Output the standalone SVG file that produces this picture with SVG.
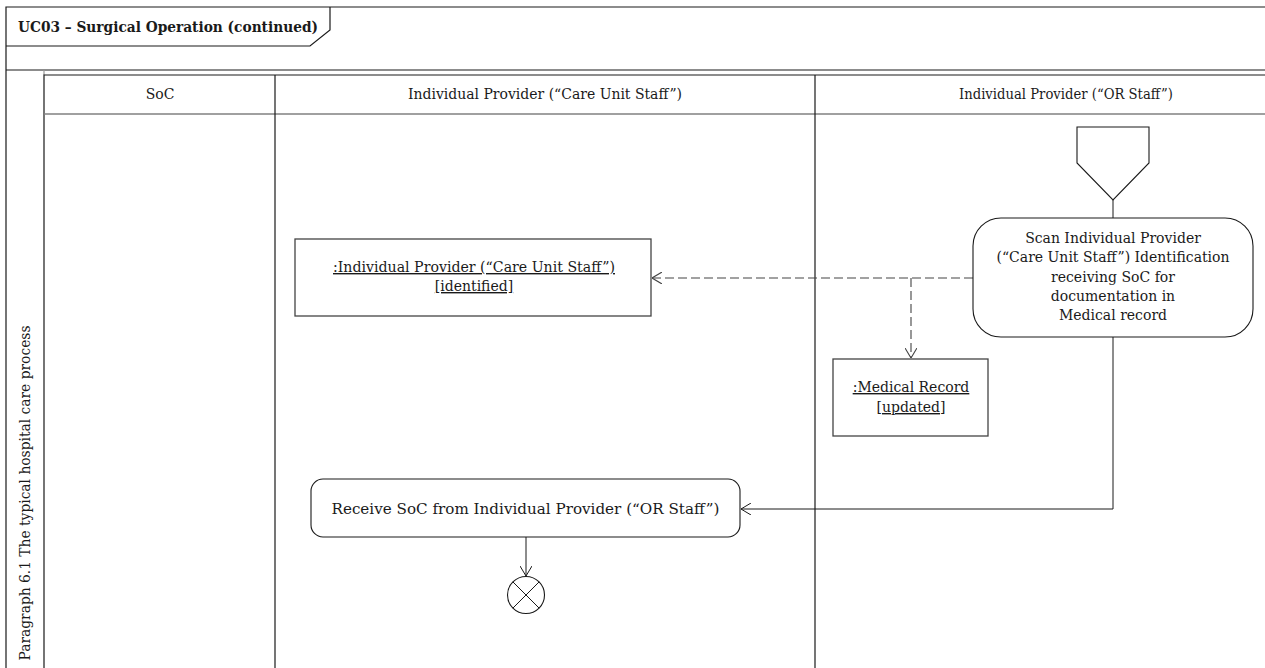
<svg xmlns="http://www.w3.org/2000/svg" width="1265" height="668" viewBox="0 0 1265 668">
  <style>
    text { font-family: "DejaVu Serif", "Liberation Serif", serif; font-size: 14px; fill: #1a1a1a; }
    .title { font-weight: bold; }
    .mid { text-anchor: middle; }
    .frame { fill: none; stroke: #1a1a1a; stroke-width: 1.2; }
    .lane { fill: none; stroke: #1a1a1a; stroke-width: 1.2; }
    .hdr { fill: none; stroke: #808080; stroke-width: 1.6; }
    .node { fill: #ffffff; stroke: #1a1a1a; stroke-width: 1.1; }
    .obj { fill: #ffffff; stroke: #444444; stroke-width: 1.3; }
    .flow { fill: none; stroke: #1a1a1a; stroke-width: 1; }
    .obflow { fill: none; stroke: #444444; stroke-width: 1.1; stroke-dasharray: 9 4; }
    .u { text-decoration: underline; }
  </style>
  <defs>
    <marker id="open" viewBox="0 0 10 12" refX="10" refY="6" markerWidth="10" markerHeight="12" markerUnits="userSpaceOnUse" orient="auto">
      <path d="M0,0 L10,6 L0,12" fill="none" stroke="#1a1a1a" stroke-width="1"/>
    </marker>
    <marker id="openGray" viewBox="0 0 10 12" refX="10" refY="6" markerWidth="10" markerHeight="12" markerUnits="userSpaceOnUse" orient="auto">
      <path d="M0,0 L10,6 L0,12" fill="none" stroke="#444444" stroke-width="1.1"/>
    </marker>
  </defs>

  <rect width="1265" height="668" fill="#ffffff"/>

  <!-- diagram frame with name tab -->
  <g id="frame">
    <path class="frame" d="M6,668 L6,7 L1265,7"/>
    <path class="frame" d="M6,46 L310,46 L330,30 L330,7"/>
    <path class="frame" d="M6,70 L1265,70"/>
    <text class="title" x="18" y="32" textLength="300" lengthAdjust="spacingAndGlyphs">UC03 – Surgical Operation (continued)</text>
  </g>

  <!-- partition and swimlanes -->
  <g id="partition">
    <path d="M44,70 L44,75" fill="none" stroke="#999999" stroke-width="1.2"/>
    <path class="lane" d="M44,668 L44,75 L1265,75"/>
    <path class="hdr" d="M44,114 L1265,114"/>
    <path class="lane" d="M275,75 L275,668"/>
    <path class="lane" d="M815,75 L815,668"/>
    <text class="mid" x="25" y="493" transform="rotate(-90 25 493)" dy="4.5" textLength="335" lengthAdjust="spacingAndGlyphs">Paragraph 6.1 The typical hospital care process</text>
    <text class="mid" x="160" y="99">SoC</text>
    <text class="mid" x="545" y="99" textLength="274" lengthAdjust="spacingAndGlyphs">Individual Provider (“Care Unit Staff”)</text>
    <text class="mid" x="1066" y="99" textLength="214" lengthAdjust="spacingAndGlyphs">Individual Provider (“OR Staff”)</text>
  </g>

  <!-- connectors -->
  <g id="connectors">
    <path class="flow" d="M1113,200 L1113,218"/>
    <path class="obflow" d="M973,278 L652,278" marker-end="url(#openGray)"/>
    <path class="obflow" d="M911,278 L911,358" marker-end="url(#openGray)"/>
    <path class="flow" d="M1113,337 L1113,509 L741,509" marker-end="url(#open)"/>
    <path class="flow" d="M526,537 L526,576" marker-end="url(#open)"/>
  </g>

  <!-- accept event signal -->
  <g id="accept-event">
    <path class="node" d="M1077,127 L1149,127 L1149,163 L1113,200 L1077,163 Z"/>
  </g>

  <g id="scan-identification">
    <rect class="node" x="973" y="218" width="280" height="119" rx="28" ry="28"/>
    <text class="mid" x="1113" y="243">Scan Individual Provider</text>
    <text class="mid" x="1113" y="262">(“Care Unit Staff”) Identification</text>
    <text class="mid" x="1113" y="282">receiving SoC for</text>
    <text class="mid" x="1113" y="301">documentation in</text>
    <text class="mid" x="1113" y="320">Medical record</text>
  </g>

  <g id="provider-identified">
    <rect class="obj" x="295" y="239" width="356" height="77"/>
    <text class="mid u" x="474" y="272" textLength="282" lengthAdjust="spacingAndGlyphs">:Individual Provider (“Care Unit Staff”)</text>
    <text class="mid u" x="474" y="291">[identified]</text>
  </g>

  <g id="medical-record">
    <rect class="obj" x="833" y="359" width="155" height="77"/>
    <text class="mid u" x="911" y="392">:Medical Record</text>
    <text class="mid u" x="911" y="412">[updated]</text>
  </g>

  <g id="receive-soc">
    <rect class="node" x="311" y="479" width="429" height="58" rx="12" ry="12"/>
    <text class="mid" x="525.5" y="514" textLength="388" lengthAdjust="spacingAndGlyphs">Receive SoC from Individual Provider (“OR Staff”)</text>
  </g>

  <g id="flow-final">
    <circle class="node" cx="526" cy="595" r="18.5"/>
    <path class="flow" d="M512.9,581.9 L539.1,608.1 M539.1,581.9 L512.9,608.1"/>
  </g>
</svg>
